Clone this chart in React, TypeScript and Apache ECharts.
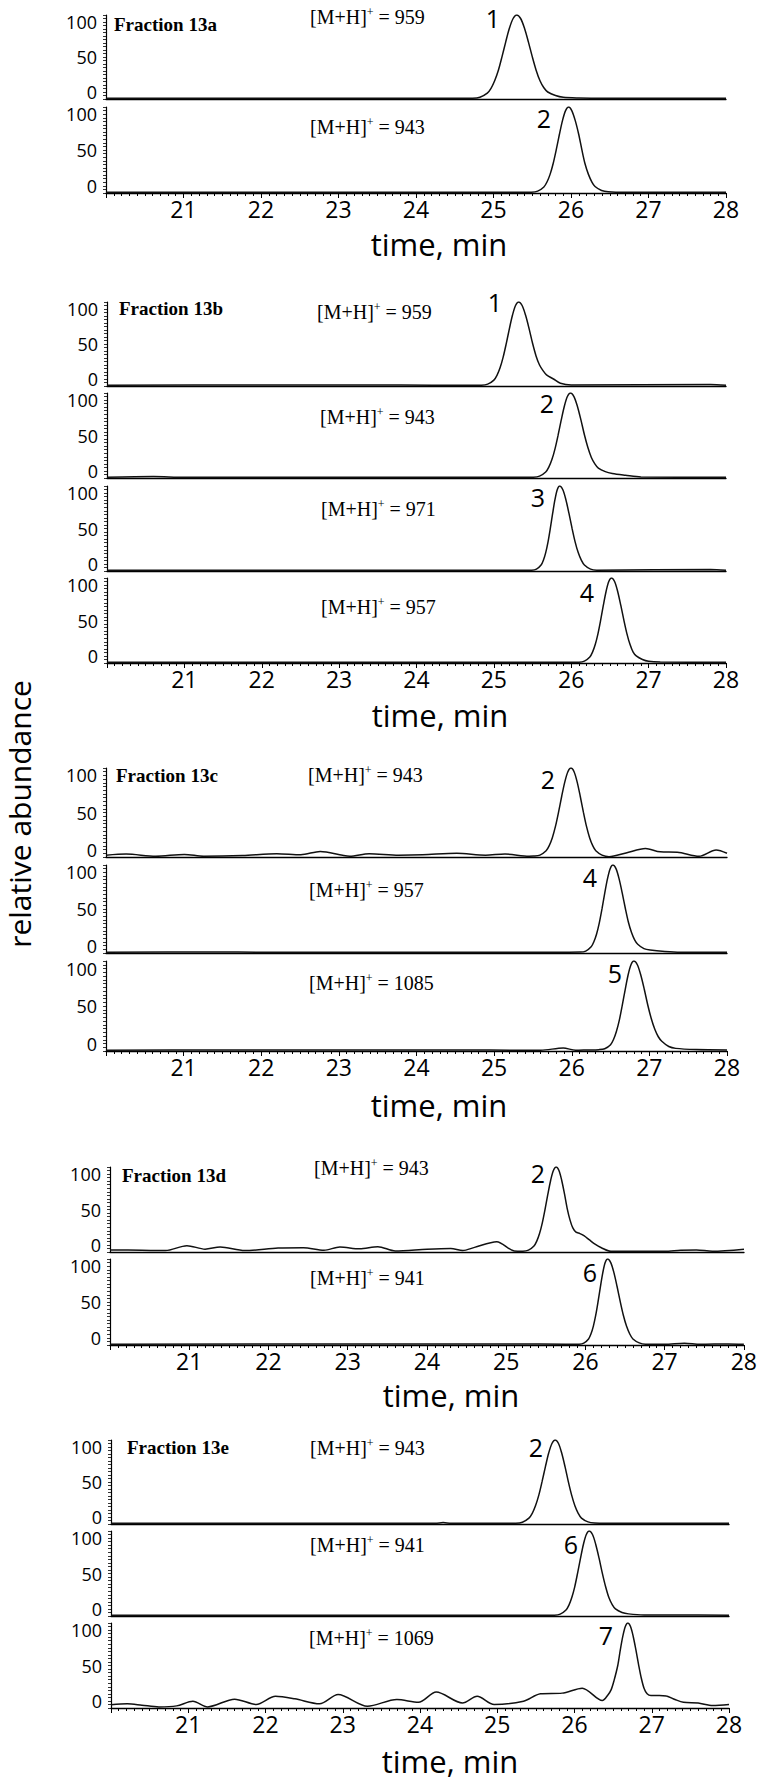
import React, { useEffect, useRef } from "react";
import * as echarts from "echarts";

// ---------- data (time in min, relative abundance) ----------
const X_MIN = 20;
const X_MAX = 28;
const Y_MIN = -10;
const Y_MAX = 110;
const Y_TICK_LABELS = [0, 50, 100];
const X_TICK_LABELS = [21, 22, 23, 24, 25, 26, 27, 28];

const FRACTION_NAMES = ["Fraction 13a", "Fraction 13b", "Fraction 13c", "Fraction 13d", "Fraction 13e"];

const trace13a_959 = [[20,-9],[24.5,-9],[24.73,-8.8],[24.825,-7.4],[24.92,-1.6],[24.968,5.3],[25.015,16],[25.063,31],[25.11,50.5],[25.158,71.6],[25.205,91],[25.253,105],[25.3,110],[25.35,105],[25.4,91],[25.45,71.6],[25.5,50.5],[25.55,31.2],[25.6,16],[25.65,6],[25.7,0],[25.8,-5],[25.9,-7.5],[26.1,-8.5],[26.4,-9],[28,-9]];
const trace13a_943 = [[20,-9],[25.3,-9],[25.49,-8.8],[25.57,-7.4],[25.65,-1.6],[25.69,5.3],[25.73,16],[25.77,31.2],[25.81,50.5],[25.85,71.6],[25.89,91],[25.93,105],[25.97,110],[26.01,105],[26.055,91],[26.1,71.6],[26.14,50.5],[26.18,31.2],[26.225,16],[26.27,5.3],[26.31,-1],[26.395,-6.5],[26.48,-8.3],[26.7,-9],[28,-9]];

const trace13b_959 = [[20,-9],[22.0,-8.5],[23.8,-8.5],[24.6,-9],[24.84,-8.8],[24.92,-7.4],[25.0,-1.6],[25.04,5.3],[25.08,16],[25.12,31.2],[25.16,50.5],[25.2,71.6],[25.24,91],[25.28,105],[25.32,110],[25.365,105],[25.41,91],[25.455,72],[25.5,51],[25.545,33],[25.59,20],[25.635,12],[25.68,6],[25.77,0],[25.86,-6],[26.0,-8.5],[27.8,-8],[28,-9]];
const trace13b_943 = [[20,-9],[20.6,-8],[21,-9],[25.3,-9],[25.51,-8.8],[25.59,-7.4],[25.67,-1.6],[25.71,5.3],[25.75,16],[25.79,31.2],[25.83,50.5],[25.87,71.6],[25.91,91],[25.95,105],[25.99,110],[26.035,105],[26.08,91],[26.125,72],[26.17,51],[26.215,33],[26.26,19],[26.305,10],[26.35,4],[26.44,-1],[26.53,-3.5],[26.7,-6],[26.9,-8.5],[28,-9]];
const trace13b_971 = [[20,-9],[25.3,-9],[25.49,-8.8],[25.55,-7.4],[25.61,-1.6],[25.64,5.3],[25.67,16],[25.7,31.2],[25.73,50.5],[25.76,71.6],[25.79,91],[25.82,105],[25.85,110],[25.89,105],[25.93,91],[25.97,71.6],[26.01,50.5],[26.05,31.2],[26.09,16],[26.13,5.3],[26.17,-1.6],[26.25,-7.4],[26.33,-8.8],[27.8,-8],[28,-9]];
const trace13b_957 = [[20,-9],[25.9,-9],[26.1,-8.8],[26.17,-7.4],[26.24,-1.6],[26.275,5.3],[26.31,16],[26.345,31.2],[26.38,50.5],[26.415,71.6],[26.45,91],[26.485,105],[26.52,110],[26.56,105],[26.6,91],[26.64,71.6],[26.68,50.5],[26.72,31.2],[26.76,16],[26.8,5.3],[26.84,0],[26.92,-5],[27.0,-7.5],[27.15,-8.5],[28,-9]];

const trace13c_943 = [[20,-7.5],[20.26,-6],[20.64,-9],[21.01,-6.5],[21.26,-9],[21.76,-8],[22.2,-5.5],[22.51,-7],[22.76,-2.5],[23.14,-9],[23.39,-5.5],[23.77,-7.5],[24.08,-7],[24.52,-5],[24.89,-7.5],[25.14,-6],[25.45,-9],[25.51,-8.8],[25.59,-7.4],[25.67,-1.6],[25.71,5.3],[25.75,16],[25.79,31.2],[25.83,50.5],[25.87,71.6],[25.91,91],[25.95,105],[25.99,110],[26.03,105],[26.07,91],[26.11,71.6],[26.15,50.5],[26.19,31.2],[26.23,16],[26.27,5.3],[26.31,-1.6],[26.39,-7.4],[26.48,-9.5],[26.7,-4.5],[26.95,1.5],[27.14,-3],[27.36,-3.5],[27.64,-9],[27.86,-0.5],[28,-5]];
const trace13c_957 = [[20,-9],[21.4,-8.5],[22,-9],[25.9,-9],[26.11,-8.8],[26.18,-7.4],[26.25,-1.6],[26.285,5.3],[26.32,16],[26.355,31.2],[26.39,50.5],[26.425,71.6],[26.46,91],[26.495,105],[26.53,110],[26.57,105],[26.61,91],[26.65,72],[26.69,51],[26.73,32],[26.77,18],[26.81,8],[26.85,2],[26.93,-4],[27.01,-6],[27.2,-8],[27.4,-9],[28,-9]];
const trace13c_1085 = [[20,-9],[21.5,-8.5],[23.8,-8.5],[24.3,-8.5],[25.6,-9],[25.89,-6],[26.05,-9],[26.2,-8.6],[26.35,-8.2],[26.425,-7],[26.5,-1.6],[26.538,5.3],[26.575,16],[26.613,31.2],[26.65,50.5],[26.688,71.6],[26.725,91],[26.763,105],[26.8,110],[26.845,105],[26.89,91],[26.935,72],[26.98,51],[27.025,33],[27.07,19],[27.115,9],[27.16,3],[27.25,-4],[27.34,-6.5],[27.6,-8],[28,-8.5]];

const trace13d_943 = [[20,-7],[20.4,-7.5],[20.7,-8],[20.97,-1],[21.2,-6],[21.39,-3],[21.7,-8],[22.12,-4.5],[22.44,-4],[22.7,-7.5],[22.9,-3],[23.15,-5.5],[23.38,-2.5],[23.6,-8.5],[24.0,-6],[24.3,-5],[24.45,-8],[24.6,-3.5],[24.88,4.5],[25.1,-8.5],[25.21,-8.8],[25.28,-7.4],[25.35,-1.6],[25.385,5.3],[25.42,16],[25.455,31.2],[25.49,50.5],[25.525,71.6],[25.56,91],[25.595,105],[25.63,110],[25.665,105],[25.7,91],[25.735,72],[25.77,51],[25.805,35],[25.84,24],[25.88,18],[25.93,16],[25.98,13],[26.05,7],[26.12,1],[26.2,-4],[26.32,-9],[27.0,-9],[27.2,-7.5],[27.4,-7],[27.6,-9],[28,-6]];
const trace13d_941 = [[20,-9],[23.4,-8.5],[25.1,-8.5],[25.75,-9],[25.92,-8.8],[25.98,-7.4],[26.04,-1.6],[26.07,5.3],[26.1,16],[26.13,31.2],[26.16,50.5],[26.19,71.6],[26.22,91],[26.25,105],[26.28,110],[26.32,105],[26.36,91],[26.4,71.6],[26.44,50.5],[26.48,31.2],[26.52,16],[26.56,5.3],[26.6,-1.6],[26.68,-7],[26.76,-8.8],[27.0,-9],[27.25,-7.5],[27.45,-9],[27.8,-8.5],[28,-9]];

const trace13e_943 = [[20,-9],[24.2,-9],[24.3,-8],[24.4,-9],[25.0,-9],[25.24,-8.8],[25.325,-7.4],[25.41,-1.6],[25.453,5.3],[25.495,16],[25.538,31.2],[25.58,50.5],[25.623,71.6],[25.665,91],[25.708,105],[25.75,110],[25.793,105],[25.835,91],[25.878,71.6],[25.92,50.5],[25.963,31.2],[26.005,16],[26.048,5.3],[26.09,-1.6],[26.175,-7],[26.26,-8.5],[26.6,-9],[28,-9]];
const trace13e_941 = [[20,-9],[25.5,-9],[25.74,-8.8],[25.815,-7.4],[25.89,-1.6],[25.928,5.3],[25.965,16],[26.003,31.2],[26.04,50.5],[26.078,71.6],[26.115,91],[26.153,105],[26.19,110],[26.233,105],[26.275,91],[26.318,71.6],[26.36,50.5],[26.403,31.2],[26.445,16],[26.488,6],[26.53,0],[26.615,-5],[26.7,-7],[26.9,-8.5],[27.3,-8.5],[28,-9]];
const trace13e_1069 = [[20,-5.5],[20.21,-4],[20.4,-6],[20.62,-8.5],[20.85,-7],[21.06,-0.5],[21.25,-8.5],[21.6,2.5],[21.88,-5],[22.13,6.5],[22.38,3],[22.7,-4],[22.94,9],[23.32,-7.5],[23.7,2],[23.98,-2],[24.21,12.5],[24.55,-3],[24.74,6.5],[24.96,-5],[25.34,-0.5],[25.56,10],[25.84,11],[26.1,18],[26.36,0.5],[26.43,8],[26.475,16],[26.51,28],[26.56,50],[26.593,72],[26.625,91],[26.658,105],[26.69,110],[26.725,105],[26.76,91],[26.795,72],[26.83,51],[26.865,32],[26.9,18],[26.94,10],[26.99,7.5],[27.1,7.5],[27.19,7],[27.3,2],[27.41,-2],[27.6,-3],[27.79,-6.5],[28,-5]];

// panel content: fraction index, ion m/z, peak number, trace
const PANELS = [
  { g: 0, ion: "959", peak: "1", data: trace13a_959 },
  { g: 0, ion: "943", peak: "2", data: trace13a_943 },
  { g: 1, ion: "959", peak: "1", data: trace13b_959 },
  { g: 1, ion: "943", peak: "2", data: trace13b_943 },
  { g: 1, ion: "971", peak: "3", data: trace13b_971 },
  { g: 1, ion: "957", peak: "4", data: trace13b_957 },
  { g: 2, ion: "943", peak: "2", data: trace13c_943 },
  { g: 2, ion: "957", peak: "4", data: trace13c_957 },
  { g: 2, ion: "1085", peak: "5", data: trace13c_1085 },
  { g: 3, ion: "943", peak: "2", data: trace13d_943 },
  { g: 3, ion: "941", peak: "6", data: trace13d_941 },
  { g: 4, ion: "943", peak: "2", data: trace13e_943 },
  { g: 4, ion: "941", peak: "6", data: trace13e_941 },
  { g: 4, ion: "1069", peak: "7", data: trace13e_1069 },
];

// ---------- layout (pixels) ----------
const GROUP_LAYOUT = [
  { left: 106, right: 726, fracX: 114, fracY: 24, timeX: 439, timeY: 244 },
  { left: 107, right: 726, fracX: 119, fracY: 308, timeX: 440, timeY: 715 },
  { left: 106, right: 727, fracX: 116, fracY: 775, timeX: 439, timeY: 1105 },
  { left: 110, right: 744, fracX: 122, fracY: 1175, timeX: 451, timeY: 1395 },
  { left: 111, right: 729, fracX: 127, fracY: 1447, timeX: 450, timeY: 1761 },
];
const PANEL_LAYOUT = [
  { top: 15, bottom: 99, ionX: 310, ionY: 17, pkX: 493, pkY: 18 },
  { top: 107, bottom: 193, ionX: 310, ionY: 127, pkX: 544, pkY: 118 },
  { top: 302, bottom: 386, ionX: 317, ionY: 312, pkX: 495, pkY: 302 },
  { top: 393, bottom: 478, ionX: 320, ionY: 417, pkX: 547, pkY: 403 },
  { top: 486, bottom: 571, ionX: 321, ionY: 509, pkX: 538, pkY: 497 },
  { top: 578, bottom: 663, ionX: 321, ionY: 607, pkX: 587, pkY: 592 },
  { top: 768, bottom: 857, ionX: 308, ionY: 775, pkX: 548, pkY: 779 },
  { top: 865, bottom: 953, ionX: 309, ionY: 890, pkX: 590, pkY: 877 },
  { top: 961, bottom: 1051, ionX: 309, ionY: 983, pkX: 615, pkY: 973 },
  { top: 1167, bottom: 1252, ionX: 314, ionY: 1168, pkX: 538, pkY: 1173 },
  { top: 1259, bottom: 1345, ionX: 310, ionY: 1278, pkX: 590, pkY: 1272 },
  { top: 1440, bottom: 1524, ionX: 310, ionY: 1448, pkX: 536, pkY: 1447 },
  { top: 1531, bottom: 1616, ionX: 310, ionY: 1545, pkX: 571, pkY: 1544 },
  { top: 1623, bottom: 1708, ionX: 309, ionY: 1638, pkX: 606, pkY: 1635 },
];

const SANS = "'Open Sans', 'Noto Sans', sans-serif";
const SERIF = "'Liberation Serif', 'DejaVu Serif', serif";

function buildOption() {
  const grids: any[] = [];
  const xAxes: any[] = [];
  const yAxes: any[] = [];
  const series: any[] = [];
  const graphics: any[] = [];

  PANELS.forEach((p, i) => {
    const L = PANEL_LAYOUT[i];
    const G = GROUP_LAYOUT[p.g];
    const isBottom = i === PANELS.length - 1 || PANELS[i + 1].g !== p.g;
    grids.push({ left: G.left, top: L.top, width: G.right - G.left, height: L.bottom - L.top, containLabel: false });
    xAxes.push({
      type: "value",
      gridIndex: i,
      min: X_MIN,
      max: X_MAX,
      interval: 1,
      axisLine: { show: true, onZero: false, lineStyle: { color: "#000", width: 1.3 } },
      axisTick: { show: isBottom, length: 5, lineStyle: { color: "#000", width: 1 } },
      minorTick: { show: isBottom, splitNumber: 10, length: 3, lineStyle: { color: "#000", width: 1 } },
      axisLabel: {
        show: isBottom,
        color: "#000",
        fontFamily: SANS,
        fontSize: 23,
        margin: 4,
        formatter: (v: number) => (X_TICK_LABELS.includes(v) ? String(v) : ""),
      },
      splitLine: { show: false },
    });
    yAxes.push({
      type: "value",
      gridIndex: i,
      min: Y_MIN,
      max: Y_MAX,
      interval: 5,
      axisLine: { show: true, onZero: false, lineStyle: { color: "#000", width: 1.2 } },
      axisTick: { show: true, length: 3, lineStyle: { color: "#000", width: 0.8 } },
      axisLabel: {
        color: "#000",
        fontFamily: SANS,
        fontSize: 18,
        margin: 9,
        formatter: (v: number) => (Y_TICK_LABELS.includes(v) ? String(v) : ""),
      },
      splitLine: { show: false },
    });
    series.push({
      type: "line",
      xAxisIndex: i,
      yAxisIndex: i,
      data: p.data,
      showSymbol: false,
      smooth: 0.3,
      lineStyle: { color: "#111", width: 1.5 },
      silent: true,
    });
    graphics.push({
      type: "text",
      x: L.ionX,
      y: L.ionY,
      style: {
        text: `{a|[M+H]}{s|+}{a| = ${p.ion}}`,
        fill: "#000",
        align: "left",
        verticalAlign: "middle",
        rich: {
          a: { fontFamily: SERIF, fontSize: 20, lineHeight: 22, fill: "#000" },
          s: { fontFamily: SERIF, fontSize: 12, lineHeight: 12, verticalAlign: "top", fill: "#000" },
        },
      },
    });
    graphics.push({
      type: "text",
      x: L.pkX,
      y: L.pkY,
      style: {
        text: p.peak,
        fontFamily: SANS,
        fontSize: 25,
        fill: "#000",
        align: "center",
        verticalAlign: "middle",
      },
    });
  });

  GROUP_LAYOUT.forEach((G, gi) => {
    graphics.push({
      type: "text",
      x: G.fracX,
      y: G.fracY,
      style: {
        text: FRACTION_NAMES[gi],
        fontFamily: SERIF,
        fontWeight: "bold",
        fontSize: 19,
        fill: "#000",
        align: "left",
        verticalAlign: "middle",
      },
    });
    graphics.push({
      type: "text",
      x: G.timeX,
      y: G.timeY,
      style: {
        text: "time, min",
        fontFamily: SANS,
        fontSize: 31,
        fill: "#000",
        align: "center",
        verticalAlign: "middle",
      },
    });
  });

  graphics.push({
    type: "text",
    x: 19,
    y: 814,
    rotation: Math.PI / 2,
    style: {
      text: "relative abundance",
      fontFamily: SANS,
      fontSize: 30,
      fill: "#000",
      align: "center",
      verticalAlign: "middle",
    },
  });

  return {
    animation: false,
    backgroundColor: "#fff",
    grid: grids,
    xAxis: xAxes,
    yAxis: yAxes,
    series,
    graphic: graphics,
  };
}

export default function App() {
  const ref = useRef<HTMLDivElement>(null);
  useEffect(() => {
    document.body.style.margin = "0";
    if (!ref.current) return;
    const chart = echarts.init(ref.current, undefined, { renderer: "svg" });
    chart.setOption(buildOption());
    return () => chart.dispose();
  }, []);
  return <div ref={ref} style={{ width: 760, height: 1782 }} />;
}
